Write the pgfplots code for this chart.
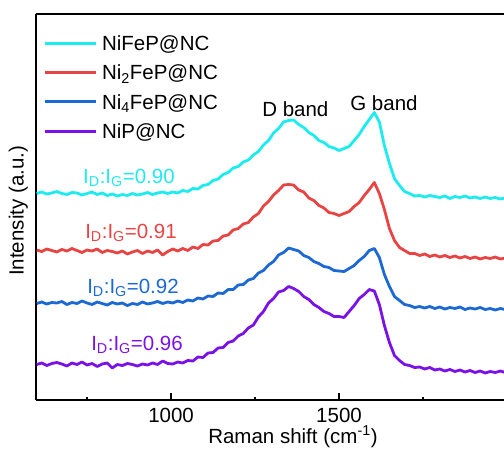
\documentclass[border=0pt]{standalone}
\usepackage{pgfplots}
\pgfplotsset{compat=1.18}
\usepackage{pgfplotstable}
\usepackage{fontspec}
\setmainfont{Liberation Sans}
\definecolor{ccyan}{RGB}{30,235,240}
\definecolor{cred}{RGB}{232,68,68}
\definecolor{cblue}{RGB}{28,105,212}
\definecolor{cpurple}{RGB}{122,18,232}
\pgfplotstableread{
x c r b p
600 193.5 250.0 303.5 364.5
615 192.0 251.5 302.0 363.0
630 194.0 249.0 304.0 365.5
645 193.0 250.5 302.5 363.5
660 191.5 252.0 303.0 362.5
675 193.5 249.5 301.5 364.0
690 194.5 251.0 304.5 366.0
705 192.5 248.5 302.5 363.0
720 193.0 250.5 303.5 364.5
735 195.0 252.5 301.0 362.0
750 193.5 250.0 303.0 365.0
765 192.0 251.0 304.5 363.5
780 194.5 249.0 302.0 366.5
795 193.0 252.5 303.5 364.0
810 195.5 250.5 305.0 363.0
825 194.0 251.5 302.5 368.0
840 196.0 253.0 304.0 364.5
855 194.5 251.0 303.0 365.5
870 195.5 254.0 305.5 363.5
885 193.5 252.0 303.5 364.5
900 195.0 250.5 304.5 366.0
915 194.0 253.5 302.0 364.0
930 192.5 251.0 304.0 365.0
945 194.5 252.5 303.0 363.0
960 193.0 250.0 301.5 364.5
975 192.0 255.0 303.5 361.0
990 193.5 251.5 302.0 363.5
1005 192.0 249.0 303.0 364.0
1020 193.0 251.0 301.0 362.0
1035 190.5 248.5 302.5 363.0
1050 191.5 250.5 300.0 360.5
1065 188.5 247.0 301.0 361.0
1080 189.0 248.5 298.0 357.0
1095 185.5 244.5 299.0 357.5
1110 184.5 245.0 296.0 353.0
1125 180.5 241.0 296.5 352.5
1140 179.0 240.5 293.0 348.0
1155 174.5 236.0 293.5 347.5
1170 172.5 235.0 289.5 342.5
1185 168.0 230.0 289.5 341.0
1200 166.5 228.5 285.0 336.0
1215 162.0 224.0 284.5 333.5
1230 160.0 222.5 280.0 328.0
1245 155.0 217.0 278.5 325.0
1260 151.5 213.5 273.0 317.0
1275 145.0 206.0 270.5 311.5
1290 140.5 201.5 265.0 303.0
1305 133.0 195.0 261.5 298.5
1320 128.5 190.5 255.0 292.0
1335 122.0 185.0 252.5 290.5
1350 120.5 184.5 248.0 286.5
1365 120.0 185.0 249.5 288.5
1380 124.5 190.0 251.0 291.5
1395 127.5 192.0 255.5 296.5
1410 132.5 198.0 257.5 299.5
1425 135.5 200.5 261.5 304.5
1440 140.5 205.5 263.5 307.5
1455 142.5 208.0 266.5 311.5
1470 146.5 212.5 267.5 313.5
1485 148.0 213.5 270.5 316.5
1500 150.5 215.5 271.0 316.5
1515 148.5 213.5 271.5 317.5
1530 146.5 211.5 268.5 311.5
1545 140.5 206.5 265.5 305.5
1560 134.5 202.5 260.5 298.5
1575 126.5 195.5 256.5 294.5
1590 119.5 189.5 250.5 289.5
1605 112.5 182.5 248.5 291.0
1620 122.0 193.5 257.5 304.5
1635 145.5 209.5 274.5 325.5
1650 163.5 228.5 286.5 342.5
1665 178.5 240.5 296.5 355.5
1680 185.5 247.5 300.5 360.5
1695 191.5 250.5 304.5 364.5
1710 193.5 253.5 305.5 365.5
1725 196.0 253.5 307.5 367.5
1740 195.5 255.5 306.5 367.0
1755 197.0 254.0 308.0 369.0
1770 195.5 256.5 306.5 367.5
1785 196.5 255.0 308.5 370.0
1800 197.5 257.0 307.0 369.0
1815 196.0 255.5 309.0 371.0
1830 198.5 257.5 307.5 369.5
1845 196.5 256.0 308.5 371.5
1860 197.5 258.0 307.0 370.0
1875 196.0 256.5 309.5 372.0
1890 198.0 258.5 308.0 370.5
1905 197.0 257.0 309.0 372.5
1920 198.5 259.0 307.5 371.0
1935 197.0 257.5 309.5 373.0
1950 198.5 258.5 308.5 371.5
1965 197.5 257.0 310.0 372.5
1980 199.0 259.0 308.5 371.0
1995 198.0 258.0 309.5 372.5
}\ramandata
\begin{document}
\begin{tikzpicture}[font=\fontsize{20.5bp}{24bp}\selectfont]
\begin{axis}[
  at={(36bp,50bp)}, anchor=south west,
  scale only axis, width=468bp, height=386bp,
  xmin=598, xmax=1991, ymin=14, ymax=400, y dir=reverse,
  axis x line*=box, axis y line*=left,
  axis line style={-, line width=1.3bp},
  xtick={1000,1500}, minor xtick={750,1250,1750},
  ytick=\empty,
  tick align=inside, xtick pos=left,
  major tick length=7bp, minor tick length=3.5bp,
  every tick/.style={black, line width=1.3bp},
  /pgf/number format/assume math mode=true,
  /pgf/number format/1000 sep={},
  xticklabel style={inner sep=0pt, yshift=-8bp},
  xlabel={Raman shift (cm\textsuperscript{-1})},
  ylabel={Intensity (a.u.)},
  xlabel style={at={(ticklabel cs:0.549)}, anchor=north, inner sep=0pt, yshift=-3bp},
  ylabel style={at={(axis description cs:-0.017,0.49)}, anchor=south, inner sep=0pt},
  legend style={draw=none, fill=none, at={(0.015,0.944)}, anchor=north west,
    inner sep=0pt, outer sep=0pt, row sep=14.3bp, column sep=5bp,
    nodes={inner sep=0pt, text height=15bp, text depth=0bp}},
  legend cell align=left,
  legend image code/.code={\draw[#1, line width=3bp] (0bp,0bp) -- (51bp,0bp);},
  every axis plot/.append style={line width=2.8bp, line join=round},
]
\addplot[ccyan] table[x=x, y=c] {\ramandata};
\addlegendentry{NiFeP@NC}
\addplot[cred] table[x=x, y=r] {\ramandata};
\addlegendentry{Ni\textsubscript{2}FeP@NC}
\addplot[cblue] table[x=x, y=b] {\ramandata};
\addlegendentry{Ni\textsubscript{4}FeP@NC}
\addplot[cpurple] table[x=x, y=p] {\ramandata};
\addlegendentry{NiP@NC}
\node[ccyan, anchor=base west, inner sep=0pt] at (axis cs:738,183) {I\textsubscript{D}:I\textsubscript{G}=0.90};
\node[cred, anchor=base west, inner sep=0pt] at (axis cs:744,238) {I\textsubscript{D}:I\textsubscript{G}=0.91};
\node[cblue, anchor=base west, inner sep=0pt] at (axis cs:750,293) {I\textsubscript{D}:I\textsubscript{G}=0.92};
\node[cpurple, anchor=base west, inner sep=0pt] at (axis cs:762,350) {I\textsubscript{D}:I\textsubscript{G}=0.96};
\node[anchor=base west, inner sep=0pt] at (axis cs:1271,116) {D band};
\node[anchor=base west, inner sep=0pt] at (axis cs:1533,110) {G band};
\end{axis}
\pgfresetboundingbox
\path[use as bounding box] (0,0) rectangle (504bp,450bp);
\end{tikzpicture}
\end{document}
